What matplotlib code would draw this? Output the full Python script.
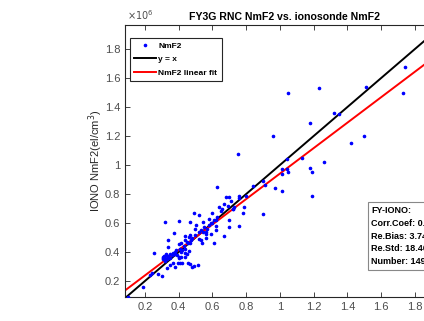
import matplotlib
matplotlib.use("Agg")
import matplotlib.pyplot as plt
import numpy as np
from matplotlib.ticker import FuncFormatter

plt.rcParams['font.family'] = ['Liberation Sans', 'DejaVu Sans']

# NmF2 pairs in units of 1e6 el/cm^3 (FY3G RNC, ionosonde)
fy3g = [1.05, 1.23, 1.51, 1.74, 1.73, 1.32, 1.35, 1.18, 0.96, 1.50, 1.42, 0.75,
        1.04, 1.13, 1.26, 1.18, 1.19, 1.05, 1.01, 1.01, 1.04, 1.19, 1.01, 0.97,
        0.91, 0.90, 0.84, 0.80, 0.79, 0.78, 0.90, 0.757, 0.76, 0.70, 0.71, 0.68,
        0.67, 0.63, 0.70, 0.70, 0.76, 0.73, 0.725, 0.64, 0.65, 0.60, 0.58, 0.62,
        0.60, 0.58, 0.62, 0.61, 0.67, 0.545, 0.52, 0.49, 0.505, 0.52, 0.495, 0.545,
        0.565, 0.59, 0.565, 0.52, 0.535, 0.54, 0.47, 0.47, 0.46, 0.44, 0.436, 0.476,
        0.456, 0.417, 0.42, 0.406, 0.387, 0.403, 0.37, 0.403, 0.436, 0.417, 0.377, 0.367,
        0.348, 0.328, 0.308, 0.316, 0.338, 0.318, 0.32, 0.338, 0.367, 0.35, 0.332, 0.377,
        0.397, 0.407, 0.422, 0.403, 0.417, 0.436, 0.456, 0.466, 0.48, 0.49, 0.515, 0.45,
        0.46, 0.255, 0.304, 0.275, 0.24, 0.23, 0.19, 0.10, 0.338, 0.31, 0.32, 0.31,
        0.33, 0.32, 0.315, 0.325, 0.335, 0.36, 0.37, 0.38, 0.39, 0.41, 0.43, 0.45,
        0.48, 0.50, 0.53, 0.55, 0.57, 0.59, 0.61, 0.63, 0.66, 0.69, 0.72, 0.35,
        0.40, 0.44, 0.47, 0.56, 0.62]
iono = [1.50, 1.53, 1.54, 1.68, 1.50, 1.36, 1.35, 1.29, 1.20, 1.20, 1.15, 1.08,
        1.04, 1.05, 1.02, 0.98, 0.95, 0.95, 0.97, 0.94, 0.97, 0.79, 0.82, 0.84,
        0.86, 0.89, 0.855, 0.79, 0.71, 0.67, 0.66, 0.786, 0.775, 0.78, 0.754, 0.78,
        0.735, 0.85, 0.62, 0.575, 0.58, 0.71, 0.695, 0.71, 0.68, 0.667, 0.63, 0.62,
        0.60, 0.586, 0.55, 0.465, 0.51, 0.61, 0.655, 0.67, 0.586, 0.54, 0.556, 0.54,
        0.524, 0.524, 0.50, 0.49, 0.483, 0.46, 0.61, 0.517, 0.506, 0.483, 0.51, 0.483,
        0.46, 0.46, 0.414, 0.423, 0.414, 0.616, 0.53, 0.453, 0.395, 0.40, 0.384, 0.395,
        0.39, 0.384, 0.368, 0.361, 0.361, 0.345, 0.605, 0.483, 0.326, 0.31, 0.287, 0.30,
        0.326, 0.322, 0.322, 0.368, 0.363, 0.368, 0.322, 0.315, 0.30, 0.303, 0.31, 0.386,
        0.41, 0.395, 0.234, 0.246, 0.253, 0.24, 0.156, 0.087, 0.432, 0.35, 0.37, 0.36,
        0.35, 0.34, 0.375, 0.355, 0.37, 0.38, 0.39, 0.40, 0.38, 0.42, 0.44, 0.47,
        0.50, 0.52, 0.55, 0.57, 0.56, 0.60, 0.62, 0.64, 0.70, 0.72, 0.70, 0.36,
        0.36, 0.42, 0.46, 0.54, 0.58]

# linear fit (y = a*x + b)
fit_slope = 0.878
fit_intercept = 0.063

ticks = [0.2, 0.4, 0.6, 0.8, 1.0, 1.2, 1.4, 1.6, 1.8]
xlim = (0.082, 1.97)
ylim = (0.09, 1.966)

stats_text = "FY-IONO:\nCorr.Coef: 0.92\nRe.Bias: 3.74%\nRe.Std: 18.46%\nNumber: 149"

fig = plt.figure(figsize=(4.24, 3.21), dpi=100)
ax = fig.add_axes([0.2948, 0.0748, 0.751, 0.847])

ax.plot(fy3g, iono, '.', color='blue', markersize=3.2, label='NmF2', zorder=3)
line_x = np.array(xlim)
ax.plot(line_x, line_x, color='black', lw=1.4, label='y = x', zorder=2)
ax.plot(line_x, fit_slope * line_x + fit_intercept, color='red', lw=1.4,
        label='NmF2 linear fit', zorder=2)

ax.set_xlim(xlim)
ax.set_ylim(ylim)
ax.set_xticks(ticks)
ax.set_yticks(ticks)
fmt = FuncFormatter(lambda v, p: '%g' % v)
ax.xaxis.set_major_formatter(fmt)
ax.yaxis.set_major_formatter(fmt)
ax.tick_params(direction='in', length=3.5, width=0.6, colors='#262626',
               labelsize=8, top=True, right=True)
for lbl in ax.get_xticklabels() + ax.get_yticklabels():
    lbl.set_color('#4d4d4d')
for s in ax.spines.values():
    s.set_color('#262626')
    s.set_linewidth(0.8)

ax.set_title('FY3G RNC NmF2 vs. ionosonde NmF2', fontsize=7.6, fontweight='bold', pad=4)
ax.set_ylabel('IONO NmF2(el/cm$^3$)', fontsize=8, color='#262626')
ax.yaxis.set_label_coords(-0.062, 0.5)
ax.set_xlabel('FY3G NmF2(el/cm$^3$)', fontsize=8, color='#262626')
ax.xaxis.set_label_coords(0.5, -0.098)
ax.text(0.005, 1.012, r'$\times10^6$', transform=ax.transAxes, fontsize=7,
        color='#4d4d4d', ha='left', va='bottom')

leg = ax.legend(loc='upper left', bbox_to_anchor=(0.016, 0.952), borderaxespad=0,
                fancybox=False, edgecolor='#262626', framealpha=1,
                prop={'weight': 'bold', 'size': 6.0},
                handlelength=2.6, borderpad=0.5, labelspacing=0.65, handletextpad=0.3)
leg.get_frame().set_linewidth(0.8)

ax.text(0.774, 0.335, stats_text, transform=ax.transAxes, fontsize=6.5, fontweight='bold',
        va='top', ha='left', linespacing=1.55,
        bbox=dict(boxstyle='square,pad=0.4', facecolor='white', edgecolor='#888888', lw=0.8))

fig.savefig('out.png', dpi=100)
